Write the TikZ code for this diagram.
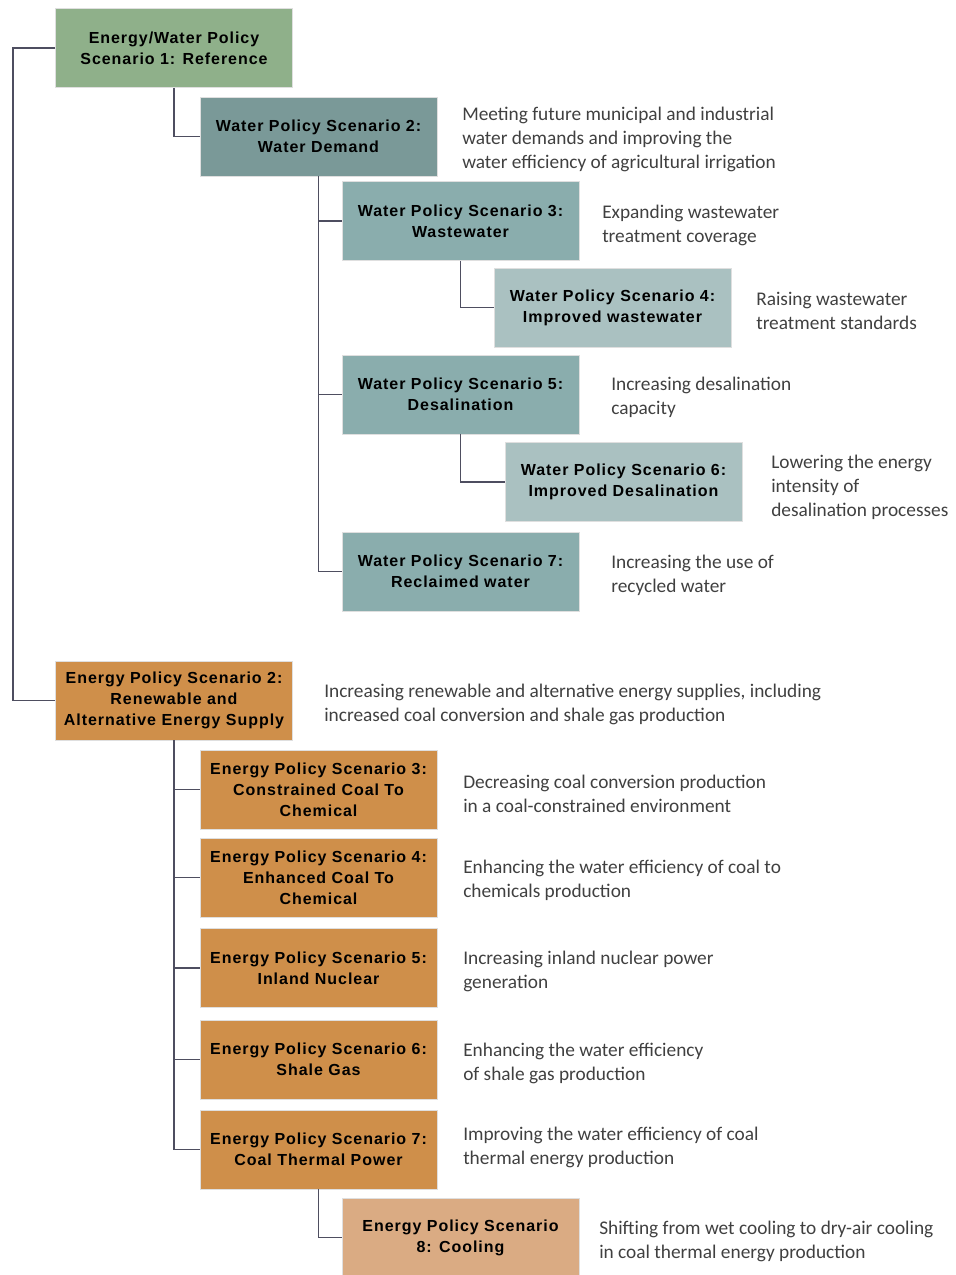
\documentclass[tikz,border=0pt]{standalone}
\usepackage{fontspec}
\setsansfont{Liberation Sans}[LetterSpace=6]
\newfontfamily\descfont{Carlito}
\definecolor{refgreen}{RGB}{143,176,138}
\definecolor{tealdark}{RGB}{122,153,152}
\definecolor{tealmid}{RGB}{138,173,173}
\definecolor{teallight}{RGB}{170,193,193}
\definecolor{energy}{RGB}{207,143,74}
\definecolor{energylight}{RGB}{218,171,131}
\definecolor{linec}{RGB}{78,78,96}
\begin{document}
\begin{tikzpicture}[x=0.75pt,y=-0.75pt,
  box/.style={draw=gray!25,line width=0.6pt,minimum width=177.75pt,minimum height=59.25pt,
    align=center,inner sep=2pt,font=\sffamily\bfseries\fontsize{12}{15.75}\selectfont},
  desc/.style={anchor=west,align=left,inner sep=0pt,text=black!75,yshift=-1.5pt,
    font=\descfont\fontsize{14.5}{18}\selectfont},
  conn/.style={draw=linec,line width=1.2pt}]
\useasboundingbox (0,0) rectangle (956,1275);
% water branch
\node[box,fill=refgreen] (b1) at (174,48) {Energy/Water Policy\\Scenario 1: Reference};
\node[box,fill=tealdark] (w2) at (318.5,136.5) {Water Policy Scenario 2:\\Water Demand};
\node[box,fill=tealmid] (w3) at (460.5,221) {Water Policy Scenario 3:\\Wastewater};
\node[box,fill=teallight] (w4) at (612.5,307.5) {Water Policy Scenario 4:\\Improved wastewater};
\node[box,fill=tealmid] (w5) at (460.5,394.5) {Water Policy Scenario 5:\\Desalination};
\node[box,fill=teallight] (w6) at (623.5,482) {Water Policy Scenario 6:\\Improved Desalination};
\node[box,fill=tealmid] (w7) at (460.5,571.5) {Water Policy Scenario 7:\\Reclaimed water};
% energy branch
\node[box,fill=energy] (e2) at (174,700.5) {Energy Policy Scenario 2:\\Renewable and\\Alternative Energy Supply};
\node[box,fill=energy] (e3) at (318.5,789.5) {Energy Policy Scenario 3:\\Constrained Coal To\\Chemical};
\node[box,fill=energy] (e4) at (318.5,877.5) {Energy Policy Scenario 4:\\Enhanced Coal To\\Chemical};
\node[box,fill=energy] (e5) at (318.5,968) {Energy Policy Scenario 5:\\Inland Nuclear};
\node[box,fill=energy] (e6) at (318.5,1059.5) {Energy Policy Scenario 6:\\Shale Gas};
\node[box,fill=energy] (e7) at (318.5,1149.5) {Energy Policy Scenario 7:\\Coal Thermal Power};
\node[box,fill=energylight] (e8) at (460.5,1237.5) {Energy Policy Scenario\\8: Cooling};
% descriptions
\node[desc] (dw2) at (462,137) {Meeting future municipal and industrial\\water demands and improving the\\water efficiency of agricultural irrigation};
\node[desc] (dw3) at (602,223) {Expanding wastewater\\treatment coverage};
\node[desc] (dw4) at (756,308.5) {Raising wastewater\\treatment standards};
\node[desc] (dw5) at (611,395) {Increasing desalination\\capacity};
\node[desc] (dw6) at (771,485) {Lowering the energy\\intensity of\\desalination processes};
\node[desc] (dw7) at (611,573) {Increasing the use of\\recycled water};
\node[desc] (de2) at (324,702) {Increasing renewable and alternative energy supplies, including\\increased coal conversion and shale gas production};
\node[desc] (de3) at (463,792) {Decreasing coal conversion production\\in a coal-constrained environment};
\node[desc] (de4) at (463,878) {Enhancing the water efficiency of coal to\\chemicals production};
\node[desc] (de5) at (463,969) {Increasing inland nuclear power\\generation};
\node[desc] (de6) at (463,1061) {Enhancing the water efficiency\\of shale gas production};
\node[desc] (de7) at (463,1145) {Improving the water efficiency of coal\\thermal energy production};
\node[desc] (de8) at (599,1239) {Shifting from wet cooling to dry-air cooling\\in coal thermal energy production};
% connectors
\coordinate (trunk) at (13,48);
\draw[conn] (b1.west) -- (trunk) |- (e2.west);
\draw[conn] (b1.south) |- (w2.west);
\foreach \n in {w3,w5,w7} \draw[conn] (w2.south) |- (\n.west);
\draw[conn] (w3.south) |- (w4.west);
\draw[conn] (w5.south) |- (w6.west);
\foreach \n in {e3,e4,e5,e6,e7} \draw[conn] (e2.south) |- (\n.west);
\draw[conn] (e7.south) |- (e8.west);
\end{tikzpicture}
\end{document}
